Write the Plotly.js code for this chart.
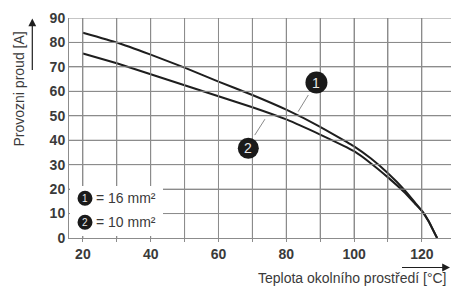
<!DOCTYPE html>
<html><head><meta charset="utf-8">
<script src="https://cdn.plot.ly/plotly-3.0.1.min.js"></script>
<style>html,body{margin:0;padding:0;background:#fff}#chart{width:451px;height:291px}</style>
</head><body><div id="chart"></div>
<script>
// Data
const temps16 = [20, 30, 40, 50, 60, 70, 80, 90, 100, 105, 110, 115, 118, 120, 122, 124.5];
const amps16  = [84, 80, 75, 69.7, 64, 58.5, 52.5, 45.5, 37.5, 32.5, 26.5, 19.5, 14.5, 11.2, 7, 0];
const temps10 = [20, 30, 40, 50, 60, 70, 80, 90, 100, 105, 110, 115, 118, 120, 122, 124.5];
const amps10  = [75.5, 71.5, 67, 62.5, 58, 53.5, 48.5, 42.3, 35.5, 30.5, 24.8, 18.5, 14, 11, 6.8, 0];
const seriesNames = ['16 mm²', '10 mm²'];
const yTickVals = [0, 10, 20, 30, 40, 50, 60, 70, 80, 90];
const gridXVals = [20, 30, 40, 50, 60, 70, 80, 90, 100, 110, 120];
const gridYVals = [10, 20, 30, 40, 50, 60, 70, 80, 90];

(function () {
  const ink = '#1e1e1e';
  const gridCol = '#8c8c8c';
  const txtCol = '#3a3a3a';
  const plotW = 382, plotH = 220, marL = 69, marT = 18;
  const toPx = v => (v - marL) / plotW;
  const toPy = v => (marT + plotH - v) / plotH;

  function circleShape(xref, yref, cx, cy, d) {
    return {type: 'circle', xref: xref, yref: yref, xsizemode: 'pixel', ysizemode: 'pixel',
      xanchor: cx, yanchor: cy, x0: -d/2, x1: d/2, y0: -d/2, y1: d/2,
      fillcolor: '#1a1a1a', line: {width: 0}, layer: 'above'};
  }

  const gridShapes = [];
  gridXVals.forEach(v => gridShapes.push({type: 'line', xref: 'x', yref: 'paper', x0: v, x1: v, y0: 0, y1: 1,
    line: {color: gridCol, width: 1}, layer: 'above'}));
  gridYVals.forEach(v => gridShapes.push({type: 'line', xref: 'paper', yref: 'y', x0: 0, x1: 1, y0: v, y1: v,
    line: {color: gridCol, width: 1}, layer: 'above'}));

  const traces = [
    {x: temps16, y: amps16, name: seriesNames[0], mode: 'lines', line: {color: ink, width: 2, shape: 'spline', smoothing: 0.3}},
    {x: temps10, y: amps10, name: seriesNames[1], mode: 'lines', line: {color: ink, width: 2, shape: 'spline', smoothing: 0.3}}
  ];

  const layout = {
    width: 451, height: 291,
    margin: {l: marL, r: 0, t: marT, b: 291 - marT - plotH},
    paper_bgcolor: '#fff', plot_bgcolor: '#fff',
    showlegend: false,
    font: {family: '"Liberation Sans", Arial, sans-serif', color: txtCol},
    xaxis: {
      range: [15.9, 128.6], tickmode: 'linear', tick0: 0, dtick: 20,
      showgrid: true, gridcolor: gridCol,
      minor: {dtick: 10, tick0: 0, showgrid: true, gridcolor: gridCol, ticks: 'outside', ticklen: 3, tickcolor: gridCol},
      ticks: 'outside', ticklen: 3, tickcolor: gridCol,
      showline: true, linecolor: gridCol, linewidth: 1, zeroline: false,
      tickfont: {size: 14, color: txtCol, weight: 'bold'}
    },
    yaxis: {
      range: [0, 90], tickmode: 'array', tickvals: yTickVals,
      showgrid: true, gridcolor: gridCol,
      showline: true, linecolor: gridCol, linewidth: 1, zeroline: false,
      ticks: '',
      tickfont: {size: 14, color: txtCol, weight: 'bold'}
    },
    shapes: gridShapes.concat([
      {type: 'rect', xref: 'paper', yref: 'paper', x0: toPx(70), x1: toPx(163), y0: toPy(236), y1: toPy(186),
        fillcolor: '#ffffff', line: {width: 0}, layer: 'above'},
      {type: 'line', xref: 'x', yref: 'y', x0: 86.5, y0: 58.5, x1: 83.5, y1: 51.7, line: {color: '#8a8a8a', width: 1}, layer: 'above'},
      {type: 'line', xref: 'x', yref: 'y', x0: 70.7, y0: 42.1, x1: 73.7, y1: 48.6, line: {color: '#8a8a8a', width: 1}, layer: 'above'},
      circleShape('x', 'y', 88.9, 63.6, 22),
      circleShape('x', 'y', 68.8, 36.7, 21),
      circleShape('paper', 'paper', toPx(85), toPy(198.3), 15),
      circleShape('paper', 'paper', toPx(85), toPy(222.3), 15)
    ]),
    annotations: [
      {x: 88.9, y: 63.6, xref: 'x', yref: 'y', text: '1', showarrow: false, font: {size: 14, color: '#e8e8e8'}, xanchor: 'center', yanchor: 'middle'},
      {x: 68.8, y: 36.7, xref: 'x', yref: 'y', text: '2', showarrow: false, font: {size: 14, color: '#e8e8e8'}, xanchor: 'center', yanchor: 'middle'},
      {x: toPx(85), y: toPy(198.3), xref: 'paper', yref: 'paper', text: '1', showarrow: false, font: {size: 10, color: '#e8e8e8'}, xanchor: 'center', yanchor: 'middle'},
      {x: toPx(85), y: toPy(222.3), xref: 'paper', yref: 'paper', text: '2', showarrow: false, font: {size: 10, color: '#e8e8e8'}, xanchor: 'center', yanchor: 'middle'},
      {x: toPx(94), y: toPy(198.3), xref: 'paper', yref: 'paper', text: '= ' + seriesNames[0], showarrow: false, font: {size: 14, color: txtCol}, xanchor: 'left', yanchor: 'middle'},
      {x: toPx(94), y: toPy(222.3), xref: 'paper', yref: 'paper', text: '= ' + seriesNames[1], showarrow: false, font: {size: 14, color: txtCol}, xanchor: 'left', yanchor: 'middle'},
      {x: toPx(19), y: toPy(89.5), xref: 'paper', yref: 'paper', text: 'Provozni proud [A]', textangle: -90, showarrow: false,
        font: {size: 14, color: txtCol}, xanchor: 'center', yanchor: 'middle'},
      {x: toPx(448), y: toPy(278), xref: 'paper', yref: 'paper', text: 'Teplota okolního prostředí [°C]', showarrow: false,
        font: {size: 14, color: txtCol}, xanchor: 'right', yanchor: 'middle'},
      {x: toPx(32.3), y: toPy(18.5), xref: 'paper', yref: 'paper', text: '', showarrow: true, ax: 0, ay: 53,
        arrowhead: 2, arrowsize: 1.3, arrowwidth: 1.2, arrowcolor: ink, standoff: 0},
      {x: toPx(450.5), y: toPy(267.5), xref: 'paper', yref: 'paper', text: '', showarrow: true, ax: -50, ay: 0,
        arrowhead: 2, arrowsize: 1.3, arrowwidth: 1.2, arrowcolor: ink, standoff: 0}
    ]
  };

  Plotly.newPlot('chart', traces, layout, {staticPlot: true, displayModeBar: false});
})();
</script></body></html>
